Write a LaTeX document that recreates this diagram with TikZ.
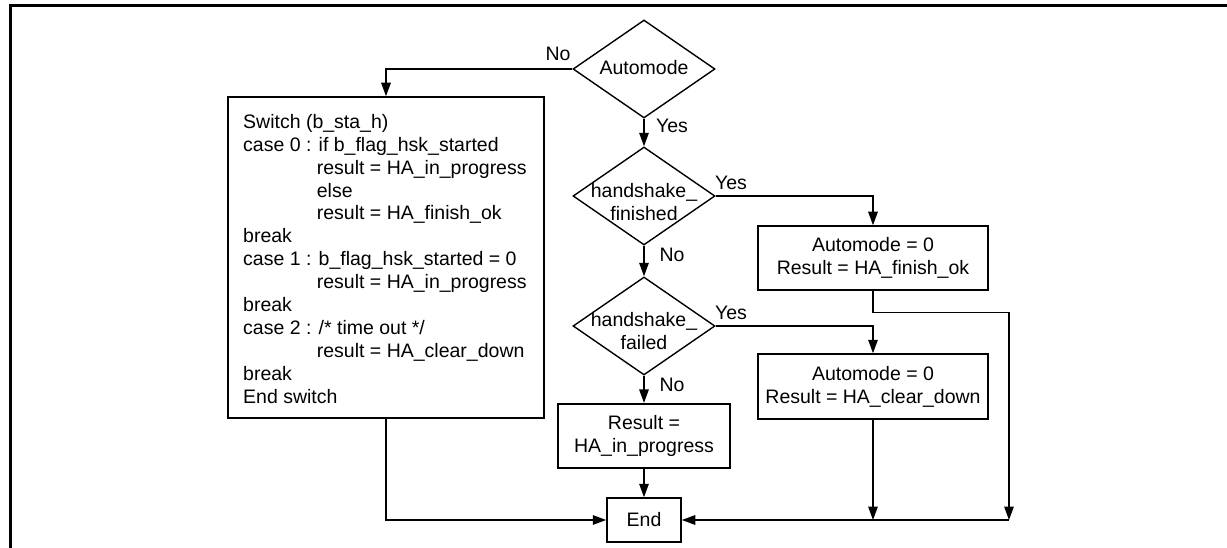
\documentclass[tikz,border=0pt]{standalone}
\usepackage{fontspec}
\setmainfont{Liberation Sans}
\usetikzlibrary{arrows.meta,shapes.geometric}
\newcommand{\caseindent}{\phantom{case 0 :\ }}
\begin{document}
\begin{tikzpicture}[x=1pt,y=-1pt,
  txt/.style={font=\fontsize{19.5pt}{22.9pt}\selectfont},
  box/.style={draw, line width=1.5pt, rectangle, inner sep=0pt, txt, align=center},
  dia/.style={draw, line width=1.4pt, diamond, inner sep=0pt, minimum width=142pt, minimum height=98pt},
  lbl/.style={txt, inner sep=0pt},
  flow/.style={line width=1.5pt, -{Triangle[length=13.5pt,width=9.5pt]}},
]
\fill[white] (0,0) rectangle (1227,548);
\useasboundingbox (0,0) rectangle (1227,548);
% outer frame (top and left edges)
\draw[line width=2.5pt] (10.5,548) -- (10.5,5.5) -- (1227,5.5);

% decisions
\node[dia] (auto) at (644,69) {};
\node[lbl] (autot) at (644,68) {Automode};
\node[dia] (fin) at (644,196) {};
\node[lbl, align=center] (fint) at (644,202) {handshake\_\\finished};
\node[dia] (fail) at (644,326) {};
\node[lbl, align=center] (failt) at (644,331) {handshake\_\\failed};

% switch block
\node[box, minimum width=316pt, minimum height=321pt] (sw) at (386,257.5) {};
\node[lbl, anchor=north west, align=left] (swt) at (243,114) {%
Switch (b\_sta\_h)\\
case 0 : if b\_flag\_hsk\_started\\
\caseindent result = HA\_in\_progress\\
\caseindent else\\
\caseindent result = HA\_finish\_ok\\
break\\
case 1 : b\_flag\_hsk\_started = 0\\
\caseindent result = HA\_in\_progress\\
break\\
case 2 : /* time out */\\
\caseindent result = HA\_clear\_down\\
break\\
End switch};

% action boxes
\node[box, minimum width=230pt, minimum height=64pt] (ok) at (873,258) {Automode = 0\\Result = HA\_finish\_ok};
\node[box, minimum width=230pt, minimum height=65pt] (clr) at (873,386.5) {Automode = 0\\Result = HA\_clear\_down};
\node[box, line width=2.2pt, minimum width=172pt, minimum height=64pt] (prog) at (644,436) {Result =\\HA\_in\_progress};
\node[box, minimum width=74pt, minimum height=44pt] (end) at (644,520) {End};

% branch labels
\node[lbl] (no1) at (558,54) {No};
\node[lbl] (yes1) at (672,126) {Yes};
\node[lbl] (yes2) at (731,183) {Yes};
\node[lbl] (no2) at (672,255) {No};
\node[lbl] (yes3) at (731,313) {Yes};
\node[lbl] (no3) at (672,385) {No};

% connectors
\coordinate (jr) at (1009,520);
\draw[flow] (auto.west) -| (sw.north);
\draw[flow] (auto.south) -- (fin.north);
\draw[flow] (fin.east) -| (ok.north);
\draw[flow] (fin.south) -- (fail.north);
\draw[flow] (fail.east) -| (clr.north);
\draw[flow] (fail.south) -- (prog.north);
\draw[flow] (sw.south) |- (end.west);
\draw[flow] (prog.south) -- (end.north);
\draw[flow] (ok.south) -- ++(0,22) -| (jr);
\draw[flow] (clr.south) -- (clr.south |- end.west);
\draw[flow] (jr) -- (end.east);
\end{tikzpicture}
\end{document}
